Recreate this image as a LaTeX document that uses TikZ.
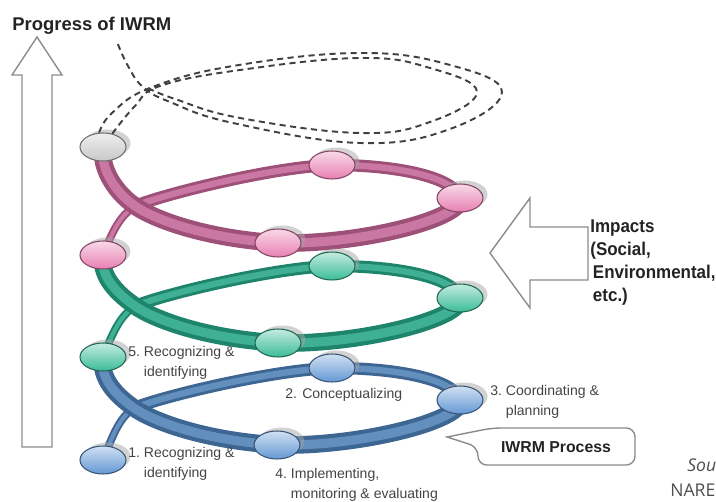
\documentclass[tikz,border=0pt]{standalone}
\usepackage{fontspec}
\setmainfont{Liberation Sans}
\newfontfamily\srcfont{Open Sans}
\newfontfamily\tagfont[FakeStretch=0.92]{Liberation Sans}
\usepackage{tikz}
\usetikzlibrary{calc,backgrounds,shapes.geometric,shadows}
\definecolor{ink}{RGB}{35,35,35}
\definecolor{cBlue}{RGB}{78,128,182}
\definecolor{cGreen}{RGB}{38,165,134}
\definecolor{cPink}{RGB}{196,100,150}
\definecolor{nBlue}{RGB}{100,152,212}
\definecolor{nGreen}{RGB}{58,188,152}
\definecolor{nPink}{RGB}{232,128,178}
\definecolor{nGrey}{RGB}{200,200,200}
\tikzset{
  stage/.style={ellipse,draw=#1!55!black,line width=0.6pt,top color=#1!30!white,
    bottom color=#1,minimum width=0.92cm,minimum height=0.56cm,inner sep=0pt,
    drop shadow={shadow xshift=0.09cm,shadow yshift=0.07cm,fill=black!35,opacity=0.5}},
  band/.style={draw=#1!80!black,double=#1!88!white},
  bthin/.style={line width=1.1pt,double distance=2.3pt},
  bback/.style={line width=1.7pt,double distance=3.6pt},
  bfront/.style={line width=2.4pt,double distance=5.2pt},
  orbit/.style={draw=black!75,line width=1.1pt,dash pattern=on 3.5pt off 2.5pt},
  hollow/.style={draw=black!45,line width=0.8pt,fill=white},
  steplabel/.style={font=\fontsize{8}{11.3}\selectfont,text=ink!85,inner sep=0pt,
    anchor=base west},
  bigtag/.style={font=\fontsize{10.5}{13}\selectfont\bfseries,text=ink,inner sep=0pt,
    anchor=base west},
}
\newcommand{\steptext}[3]{\begin{tabular}[t]{@{}l@{~}l@{}}#1&#2\\&#3\end{tabular}}

\begin{document}
\begin{tikzpicture}[x=0.02cm,y=-0.02cm]
  \useasboundingbox (0,0) rectangle (716,502);
  % progress arrow
  \draw[hollow] (22,447) -- (22,75) -- (12,75) -- (37,37) -- (62,75) -- (52,75) -- (52,447) -- cycle;
  \node[bigtag] (title) at (12,31) {Progress of IWRM};
  % stages, one row of nodes per turn
  \node[stage=nBlue] (L1) at (103,460) {};
  \node[stage=nBlue] (B1) at (332,368) {};
  \node[stage=nBlue] (R1) at (460,400) {};
  \node[stage=nBlue] (F1) at (277,445) {};
  \node[stage=nGreen] (L2) at (103,357) {};
  \node[stage=nGreen] (B2) at (332,266) {};
  \node[stage=nGreen] (R2) at (460,298) {};
  \node[stage=nGreen] (F2) at (278,343) {};
  \node[stage=nPink] (L3) at (103,255) {};
  \node[stage=nPink] (B3) at (332,165) {};
  \node[stage=nPink] (R3) at (460,198) {};
  \node[stage=nPink] (F3) at (278,243) {};
  \node[stage=nGrey] (L4) at (103,147) {};
  % the turns
  \begin{scope}[on background layer]
    \foreach \i/\c [evaluate=\i as \j using int(\i+1)] in {1/cBlue,2/cGreen,3/cPink}{
      \coordinate (X\i) at ($(F\i)+(-143,-37)$);
      \draw[band=\c,bthin] (L\i.center) .. controls +(10,-25) and +(-15,10) .. (X\i);
      \draw[band=\c,bback] (X\i) .. controls +(30,-12) and +(-60,2) .. (B\i.center)
        .. controls +(68,0) and +(-5,-20) .. (R\i.center);
      \draw[band=\c,bfront] (R\i.center) .. controls +(5,20) and +(83,2) .. (F\i.center)
        .. controls +(-77,-5) and +(17,12) .. (X\i)
        .. controls +(-23,-16) and +(-3,18) .. (L\j.center);
    }
  \end{scope}
  % turns still to come
  \draw[orbit] plot[smooth,tension=0.7] coordinates {(L4.105) (112,113) (150,88) (233,66)
    (360,53) (450,65) (502,92) (450,129) (360,143) (233,123) (170,102) (143,87) (128,66) (117,42)};
  \draw[orbit] plot[smooth,tension=0.7] coordinates {(L4.55) (135,106) (160,86) (240,70)
    (360,58) (430,68) (477,92) (430,122) (360,133) (240,118) (175,99) (148,88)};
  % impacts arrow
  \draw[hollow] (588,227) -- (530,227) -- (530,198) -- (490,253) -- (530,308) -- (530,280) -- (588,280) -- cycle;
  \node[bigtag,font=\tagfont\fontsize{10.5}{13}\selectfont\bfseries] (impacts) at (590,233)
    {\begin{tabular}[t]{@{}l@{}}Impacts\\(Social,\\\hspace{1.5pt}Environmental,\\\hspace{1.5pt}etc.)\end{tabular}};
  % step labels
  \node[steplabel] (t1) at (128,458) {\steptext{1.}{Recognizing \&}{identifying}};
  \node[steplabel] (t2) at (285,399) {2. Conceptualizing};
  \node[steplabel] (t3) at (490,396) {\steptext{3.}{Coordinating \&}{planning}};
  \node[steplabel] (t4) at (275,479) {\steptext{4.}{Implementing,}{monitoring \& evaluating}};
  \node[steplabel] (t5) at (128,357) {\steptext{5.}{Recognizing \&}{identifying}};
  % callout
  \coordinate (tip) at (447,437);
  \draw[hollow] (tip) [rounded corners=5pt] -- (492,428) -- (635,428) -- (635,465) -- (478,465)
    -- (478,447) [sharp corners] -- cycle;
  \node[font=\fontsize{9}{11}\selectfont\bfseries,text=ink] (proc) at (556,447) {IWRM Process};
  % source, cut by the edge
  \node[font=\srcfont\fontsize{10}{12}\selectfont\itshape,text=ink!80,anchor=base west,
    inner sep=0pt] (src) at (687,472) {Sou};
  \node[font=\srcfont\fontsize{10}{12}\selectfont,text=ink!80,anchor=base west,
    inner sep=0pt] (narb) at (670,497) {NARE};
\end{tikzpicture}
\end{document}
